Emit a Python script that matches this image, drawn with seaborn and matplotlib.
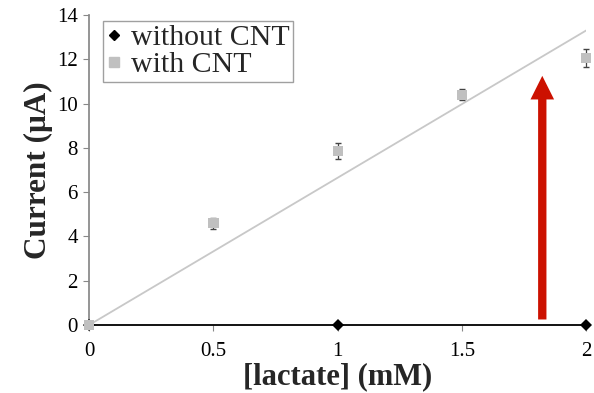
import seaborn as sns
import matplotlib.pyplot as plt
import numpy as np
import pandas as pd
from matplotlib.lines import Line2D

sns.set_theme(style="white")
plt.rcParams['font.family'] = ['Liberation Serif', 'DejaVu Serif']

# data
conc_with = [0, 0.5, 1.0, 1.5, 2.0]
current_with = [0, 4.6, 7.86, 10.4, 12.06]
err_with = [0.1, 0.25, 0.35, 0.25, 0.4]

conc_without = [0, 1.0, 2.0]
current_without = [0, 0, 0]

df_with = pd.DataFrame({"conc": conc_with, "current": current_with, "err": err_with})
df_without = pd.DataFrame({"conc": conc_without, "current": current_without})

fig = plt.figure(figsize=(5.94, 3.93), dpi=100)
ax = fig.add_axes([0.150, 0.173, 0.837, 0.789])

# linear trendline through origin for the CNT series
slope = np.sum(df_with.conc * df_with.current) / np.sum(df_with.conc ** 2)
xfit = np.array([0, 2])
ax.plot(xfit, slope * xfit, color="#c8c8c8", lw=1.3, zorder=1)

sns.lineplot(data=df_without, x="conc", y="current", color="black", lw=1.3,
             marker="D", markersize=6.5, markeredgewidth=0, ax=ax, zorder=3,
             clip_on=False)
ax.errorbar(df_with.conc, df_with.current, yerr=df_with.err, fmt="none",
            ecolor="#444444", elinewidth=0.9, capsize=2.5, zorder=2, clip_on=False)
sns.scatterplot(data=df_with, x="conc", y="current", marker="s", s=55,
                color="#c0c0c0", edgecolor="none", ax=ax, zorder=4, clip_on=False)

# red arrow
ax.annotate("", xy=(1.823, 11.25), xytext=(1.823, 0.25),
            arrowprops=dict(width=6, headwidth=17, headlength=17,
                            facecolor="#cc1100", edgecolor="none",
                            shrink=0),
            zorder=5)

# legend
handles = [Line2D([], [], marker="D", color="black", ls="none", markersize=5),
           Line2D([], [], marker="s", color="#c0c0c0", ls="none", markersize=6.5)]
leg = ax.legend(handles, ["without CNT", "with CNT"], loc="upper left",
                bbox_to_anchor=(0.01, 1.01), fontsize=21.5, frameon=True,
                fancybox=False, handlelength=0.5, handletextpad=0.3,
                borderpad=0.12, labelspacing=0.0, borderaxespad=0.3)
leg.get_frame().set_edgecolor("#888888")
leg.get_frame().set_linewidth(1.0)

ax.set_xlim(0, 2)
ax.set_ylim(0, 14)
ax.set_xticks([0, 0.5, 1, 1.5, 2])
ax.set_xticklabels(["0", "0.5", "1", "1.5", "2"])
ax.set_yticks(range(0, 15, 2))
ax.tick_params(axis="both", labelsize=15, length=4, width=0.8,
               bottom=True, left=True, direction="out", colors="#888888",
               labelcolor="black")
ax.tick_params(axis="x", pad=8)
ax.tick_params(axis="y", pad=4)
for s in ["top", "right", "bottom"]:
    ax.spines[s].set_visible(False)
ax.spines["left"].set_color("#888888")
ax.set_xlabel("[lactate] (mM)", fontsize=22, fontweight="bold", labelpad=1)
ax.set_ylabel("Current (μA)", fontsize=22.5, fontweight="bold", labelpad=3)

plt.savefig("out.png", dpi=100)
